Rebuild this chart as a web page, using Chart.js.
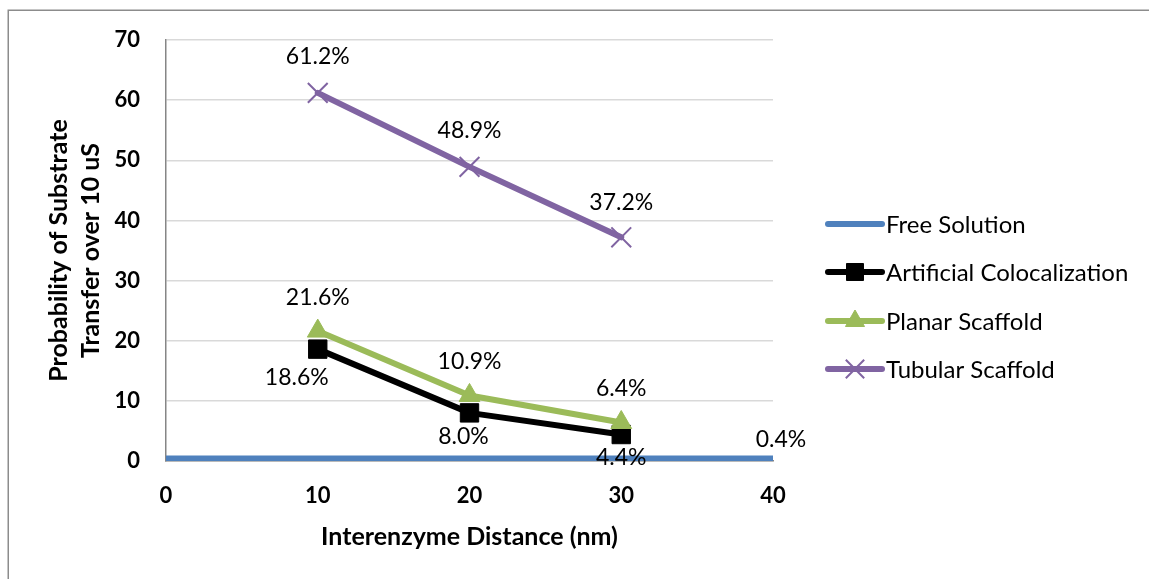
<!DOCTYPE html>
<html>
<head>
<meta charset="utf-8">
<title>Probability of Substrate Transfer vs Interenzyme Distance</title>
<script src="https://cdn.jsdelivr.net/npm/chart.js@4/dist/chart.umd.min.js"></script>
<style>
  html, body { margin: 0; padding: 0; background: #ffffff; }
  canvas { display: block; }
</style>
</head>
<body>
<canvas id="chart" width="1149" height="579"></canvas>
<script>
// Interenzyme distance (nm)
const distances = [10, 20, 30];
const freeDistances = [0, 40];

// Probability of substrate transfer over 10 uS (%)
const freeSolution = [0.4, 0.4];
const artificialColocalization = [18.6, 8.0, 4.4];
const planarScaffold = [21.6, 10.9, 6.4];
const tubularScaffold = [61.2, 48.9, 37.2];

const seriesNames = ['Free Solution', 'Artificial Colocalization', 'Planar Scaffold', 'Tubular Scaffold'];
const yTicks = [0, 10, 20, 30, 40, 50, 60, 70];
const xTicks = [0, 10, 20, 30, 40];

const FONT = 'Lato, "Open Sans", "DejaVu Sans", sans-serif';

function points(xs, ys) {
  return xs.map((x, i) => ({ x: x, y: ys[i] }));
}

// Value labels: one offset per point, with an optional flag to show it
const labelPlacement = [
  { show: [false, true], dx: [0, 8], dy: [0, -19] },
  { show: [true, true, true], dx: [-21, -6, 0], dy: [28, 24, 23] },
  { show: [true, true, true], dx: [0, 0, 0], dy: [-34, -34, -34] },
  { show: [true, true, true], dx: [0, 0, 0], dy: [-36, -36, -35] }
];

const valueLabels = {
  id: 'valueLabels',
  afterDatasetsDraw(chart) {
    const ctx = chart.ctx;
    ctx.save();
    ctx.font = '23px ' + FONT;
    ctx.fillStyle = '#000000';
    ctx.textAlign = 'center';
    ctx.textBaseline = 'middle';
    chart.data.datasets.forEach((ds, di) => {
      const meta = chart.getDatasetMeta(di);
      const place = labelPlacement[di];
      meta.data.forEach((pt, i) => {
        if (!place.show[i]) return;
        const v = ds.data[i].y;
        ctx.fillText(v.toFixed(1) + '%', pt.x + place.dx[i], pt.y + place.dy[i]);
      });
    });
    ctx.restore();
  }
};

// Legend to the right of the plot: line sample with the series marker
const sideLegend = {
  id: 'sideLegend',
  afterDraw(chart) {
    const ctx = chart.ctx;
    const x0 = 828, x1 = 882, textX = 886;
    const rowY = [224, 272, 321, 369];
    ctx.save();
    chart.data.datasets.forEach((ds, i) => {
      const y = rowY[i];
      ctx.strokeStyle = ds.borderColor;
      ctx.lineWidth = 6;
      ctx.lineCap = 'round';
      ctx.beginPath();
      ctx.moveTo(x0, y);
      ctx.lineTo(x1, y);
      ctx.stroke();
      if (ds.pointStyle && ds.pointRadius > 0) {
        ctx.fillStyle = ds.pointBackgroundColor;
        ctx.strokeStyle = ds.pointBorderColor;
        ctx.lineWidth = ds.pointBorderWidth;
        ctx.lineCap = 'butt';
        Chart.helpers.drawPoint(ctx, {
          pointStyle: ds.pointStyle,
          radius: ds.pointRadius - 1,
          borderWidth: ds.pointBorderWidth,
          rotation: 0
        }, (x0 + x1) / 2, y);
      }
      ctx.fillStyle = '#000000';
      ctx.font = '24px ' + FONT;
      ctx.textAlign = 'left';
      ctx.textBaseline = 'middle';
      ctx.fillText(ds.label, textX, y + 1);
    });
    ctx.restore();
  }
};

// Frame around the chart and white background
const frame = {
  id: 'frame',
  beforeDraw(chart) {
    const ctx = chart.ctx;
    ctx.save();
    ctx.fillStyle = '#ffffff';
    ctx.fillRect(0, 0, chart.width, chart.height);
    ctx.strokeStyle = '#8c8c8c';
    ctx.lineWidth = 1.5;
    ctx.beginPath();
    ctx.moveTo(8.25, chart.height);
    ctx.lineTo(8.25, 10.25);
    ctx.lineTo(chart.width, 10.25);
    ctx.stroke();
    ctx.restore();
  }
};

const chart = new Chart(document.getElementById('chart'), {
  type: 'line',
  data: {
    datasets: [
      {
        label: seriesNames[0],
        data: points(freeDistances, freeSolution),
        borderColor: '#4f81bd',
        backgroundColor: '#4f81bd',
        borderWidth: 6,
        borderCapStyle: 'round',
        pointRadius: 0,
        pointHoverRadius: 0,
        pointStyle: false,
        order: 4
      },
      {
        label: seriesNames[1],
        data: points(distances, artificialColocalization),
        borderColor: '#000000',
        backgroundColor: '#000000',
        borderWidth: 6,
        borderJoinStyle: 'round',
        borderCapStyle: 'round',
        pointStyle: 'rect',
        pointRadius: 13,
        pointHoverRadius: 13,
        pointBackgroundColor: '#000000',
        pointBorderColor: '#000000',
        pointBorderWidth: 1,
        order: 3
      },
      {
        label: seriesNames[2],
        data: points(distances, planarScaffold),
        borderColor: '#9bbb59',
        backgroundColor: '#9bbb59',
        borderWidth: 6,
        borderJoinStyle: 'round',
        borderCapStyle: 'round',
        pointStyle: 'triangle',
        pointRadius: 12,
        pointHoverRadius: 12,
        pointBackgroundColor: '#9bbb59',
        pointBorderColor: '#9bbb59',
        pointBorderWidth: 1,
        order: 2
      },
      {
        label: seriesNames[3],
        data: points(distances, tubularScaffold),
        borderColor: '#8064a2',
        backgroundColor: '#8064a2',
        borderWidth: 6,
        borderJoinStyle: 'round',
        borderCapStyle: 'round',
        pointStyle: 'crossRot',
        pointRadius: 14,
        pointHoverRadius: 14,
        pointBackgroundColor: '#8064a2',
        pointBorderColor: '#8064a2',
        pointBorderWidth: 2,
        order: 1
      }
    ]
  },
  options: {
    responsive: false,
    animation: false,
    devicePixelRatio: 1,
    layout: { padding: { left: 0, right: 376, top: 40, bottom: 0 } },
    plugins: {
      legend: { display: false },
      tooltip: { enabled: false }
    },
    scales: {
      x: {
        type: 'linear',
        min: 0,
        max: 40,
        afterBuildTicks(scale) { scale.ticks = xTicks.map(v => ({ value: v })); },
        afterFit(scale) { scale.height = 118; },
        grid: { display: false, drawTicks: false },
        border: { display: true, color: '#868686', width: 1.5 },
        ticks: {
          padding: 22,
          color: '#000000',
          font: { family: FONT, size: 22, weight: 'bold' }
        },
        title: {
          display: true,
          text: 'Interenzyme Distance (nm)',
          color: '#000000',
          font: { family: FONT, size: 25, weight: 'bold', lineHeight: 1.2 },
          padding: { top: 0, bottom: 27 }
        }
      },
      y: {
        min: 0,
        max: 70,
        afterBuildTicks(scale) { scale.ticks = yTicks.map(v => ({ value: v })); },
        afterFit(scale) { scale.width = 166; },
        grid: { color: '#d9d9d9', lineWidth: 1.5, drawTicks: false },
        border: { display: true, color: '#868686', width: 1.5 },
        ticks: {
          padding: 26,
          color: '#000000',
          font: { family: FONT, size: 22, weight: 'bold' }
        },
        title: {
          display: true,
          text: ['Probability of Substrate', 'Transfer over 10 uS'],
          color: '#000000',
          font: { family: FONT, size: 25, weight: 'bold', lineHeight: 1.28 },
          padding: { top: 43, bottom: 0 }
        }
      }
    }
  },
  plugins: [frame, valueLabels, sideLegend]
});
</script>
</body>
</html>
